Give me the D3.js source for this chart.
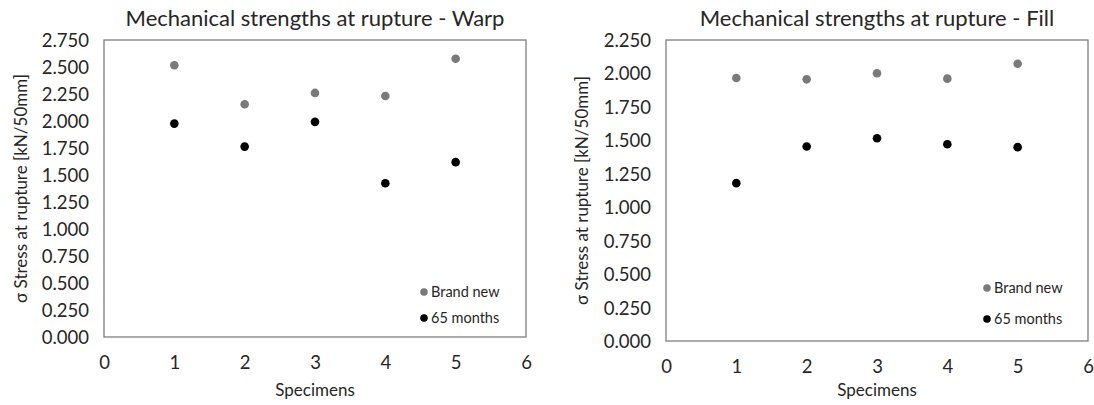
<!DOCTYPE html>
<html>
<head>
<meta charset="utf-8">
<script src="https://cdn.jsdelivr.net/npm/d3@7"></script>
<style>
  body { margin: 0; background: #fff; }
  svg text { font-family: Lato, "Open Sans", sans-serif; fill: #262626; }
</style>
</head>
<body>
<div id="chart"></div>
<script>
var specimens = [1, 2, 3, 4, 5];
var xTicks = [0, 1, 2, 3, 4, 5, 6];
var seriesNames = ["Brand new", "65 months"];

var warpNew = [2.516, 2.155, 2.260, 2.232, 2.577];
var warpAged = [1.976, 1.763, 1.992, 1.424, 1.619];
var fillNew = [1.966, 1.956, 2.001, 1.961, 2.073];
var fillAged = [1.180, 1.454, 1.516, 1.471, 1.449];

var warpTicks = d3.range(0, 2.751, 0.25);
var fillTicks = d3.range(0, 2.251, 0.25);

var colors = ["#7a7a7a", "#000000"];

var svg = d3.select("#chart").append("svg")
    .attr("width", 1094)
    .attr("height", 405);

var fmt = d3.format(".3f");

var panels = [
  {title: "Mechanical strengths at rupture - Warp", left: 104, right: 526, top: 40, bottom: 337,
   max: 2.75, ticks: warpTicks, series: [warpNew, warpAged], legX: 424, legY: [292, 318], yTitleX: 21},
  {title: "Mechanical strengths at rupture - Fill", left: 666, right: 1088, top: 40, bottom: 341,
   max: 2.25, ticks: fillTicks, series: [fillNew, fillAged], legX: 987, legY: [288, 319], yTitleX: 582}
];

panels.forEach(function(p) {
  var g = svg.append("g");

  var x = d3.scaleLinear().domain([0, 6]).range([p.left, p.right]);
  var y = d3.scaleLinear().domain([0, p.max]).range([p.bottom, p.top]);

  // frame
  g.append("rect")
      .attr("x", p.left).attr("y", p.top)
      .attr("width", p.right - p.left).attr("height", p.bottom - p.top)
      .attr("fill", "none").attr("stroke", "#7f7f7f").attr("stroke-width", 1.3);

  var yAxis = g.append("g")
      .attr("transform", "translate(" + p.left + ",0)")
      .call(d3.axisLeft(y).tickValues(p.ticks).tickFormat(fmt).tickSize(0).tickPadding(15));
  yAxis.select(".domain").remove();
  yAxis.attr("font-size", null).attr("font-family", null);
  yAxis.selectAll("text").style("font-size", "18.5px").attr("dy", "0.35em");

  var xAxis = g.append("g")
      .attr("transform", "translate(0," + p.bottom + ")")
      .call(d3.axisBottom(x).tickValues(xTicks).tickFormat(d3.format("d")).tickSize(0).tickPadding(19));
  xAxis.select(".domain").remove();
  xAxis.attr("font-size", null).attr("font-family", null);
  xAxis.selectAll("text").style("font-size", "18.5px");

  g.append("text")
      .attr("x", (p.left + p.right) / 2)
      .attr("y", 26)
      .attr("text-anchor", "middle")
      .style("font-size", "22px")
      .text(p.title);

  g.append("text")
      .attr("x", (p.left + p.right) / 2)
      .attr("y", 396)
      .attr("text-anchor", "middle")
      .style("font-size", "17px")
      .text("Specimens");

  g.append("text")
      .attr("transform", "translate(" + p.yTitleX + "," + ((p.top + p.bottom) / 2) + ") rotate(-90)")
      .attr("text-anchor", "middle")
      .attr("dy", "0.35em")
      .style("font-size", "17px")
      .text("σ Stress at rupture [kN/50mm]");

  p.series.forEach(function(vals, i) {
    g.selectAll(".dot" + i)
      .data(vals)
      .enter().append("circle")
        .attr("cx", function(d, j) { return x(specimens[j]); })
        .attr("cy", function(d) { return y(d); })
        .attr("r", 4.3)
        .attr("fill", colors[i]);

    g.append("circle")
        .attr("cx", p.legX).attr("cy", p.legY[i])
        .attr("r", 3.8).attr("fill", colors[i]);
    g.append("text")
        .attr("x", p.legX + 7).attr("y", p.legY[i])
        .attr("dy", "0.35em")
        .style("font-size", "14.5px")
        .text(seriesNames[i]);
  });
});
</script>
</body>
</html>
